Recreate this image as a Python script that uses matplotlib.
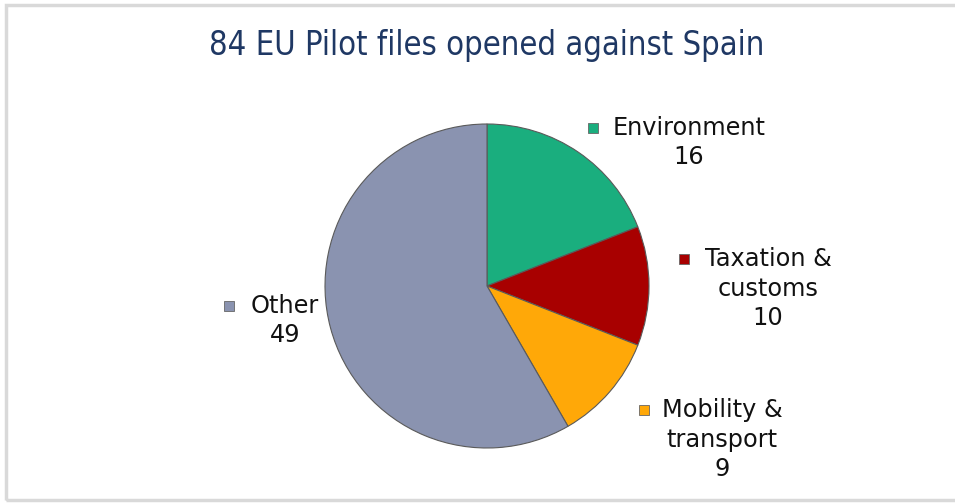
import matplotlib
matplotlib.use("Agg")
import matplotlib.pyplot as plt
from matplotlib.patches import Rectangle

title = "84 EU Pilot files opened against Spain"
categories = ["Environment", "Taxation &\ncustoms", "Mobility &\ntransport", "Other"]
values = [16, 10, 9, 49]
colors = ["#1AAE7E", "#A80000", "#FFA808", "#8A93B0"]

W, H = 955, 504
fig = plt.figure(figsize=(W / 100, H / 100), dpi=100)
fig.patch.set_facecolor("white")
ax = fig.add_axes([0, 0, 1, 1])

# outer light frame
ax.add_patch(Rectangle((6, 4), W + 10, H - 9, fill=False, edgecolor="#D9D9D9", linewidth=2.5))

cx, cy, r = 487, H - 286, 162
wedges, _ = ax.pie(values, colors=colors, startangle=90, counterclock=False,
                   center=(cx, cy), radius=r, frame=True,
                   wedgeprops=dict(edgecolor="#5a5a5a", linewidth=0.8))
ax.set_xlim(0, W)
ax.set_ylim(0, H)
ax.set_aspect("equal")
ax.axis("off")

ax.text(cx, H - 45, title, ha="center", va="center", fontsize=23.5, color="#1F3864",
        family="DejaVu Sans", stretch="condensed")

# label anchor positions (top-line centre, square x) in pixels from top
label_pos = [(689, 128, 593), (768, 259, 684), (722, 410, 644), (285, 306, 229)]
for (lx, ly, sx), cat, val, col in zip(label_pos, categories, values, colors):
    lines = cat.split("\n") + [str(val)]
    for i, line in enumerate(lines):
        ax.text(lx, H - (ly + 29.5 * i), line, ha="center", va="center",
                fontsize=17.3, color="#111111", family="DejaVu Sans")
    ax.add_patch(Rectangle((sx - 5, H - ly - 5), 10, 10, facecolor=col,
                           edgecolor="#666666", linewidth=0.6))

fig.savefig("out.png", dpi=100, facecolor="white")
